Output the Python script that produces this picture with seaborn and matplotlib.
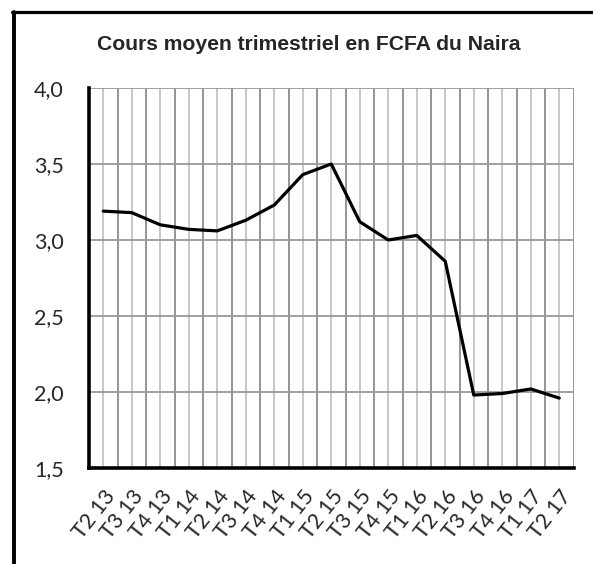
import matplotlib
matplotlib.use("Agg")
import matplotlib.pyplot as plt
import numpy as np
import seaborn as sns
from matplotlib.lines import Line2D
from matplotlib.ticker import FuncFormatter, FixedLocator

# Données : cours moyen trimestriel du Naira en FCFA
trimestres = ["T2 13", "T3 13", "T4 13", "T1 14", "T2 14", "T3 14", "T4 14",
              "T1 15", "T2 15", "T3 15", "T4 15", "T1 16", "T2 16", "T3 16",
              "T4 16", "T1 17", "T2 17"]
cours = [3.19, 3.18, 3.10, 3.07, 3.06, 3.13, 3.23, 3.43, 3.50, 3.12,
         3.00, 3.03, 2.86, 1.98, 1.99, 2.02, 1.96]

sns.set_style("white")
plt.rcParams['font.family'] = ['Lato', 'DejaVu Sans']

fig = plt.figure(figsize=(5.93, 5.64), dpi=100)
ax = fig.add_axes([89 / 593, 1 - 468 / 564, 484.5 / 593, 380 / 564])

pos = np.arange(len(trimestres))
sns.lineplot(x=pos, y=cours, ax=ax, color="black", linewidth=2.3)

ax.set_xlim(-0.5, len(trimestres) - 0.5)
ax.set_ylim(1.5, 4.0)
ax.set_yticks(np.arange(1.5, 4.01, 0.5))
ax.yaxis.set_major_formatter(FuncFormatter(lambda v, p: f"{v:.1f}".replace(".", ",")))

# ticks majeurs aux limites des catégories, étiquettes au centre
ax.xaxis.set_major_locator(FixedLocator(np.arange(-0.5, len(trimestres), 1.0)))
ax.xaxis.set_minor_locator(FixedLocator(pos))
ax.set_xticklabels([], minor=False)
ax.set_xticklabels(trimestres, minor=True, rotation=52, ha="right",
                   rotation_mode="anchor", fontsize=15.5)
ax.tick_params(axis="x", which="major", direction="in", length=6, width=2.5,
               color="black", labelbottom=False)
ax.tick_params(axis="x", which="minor", length=0, pad=13)
ax.tick_params(axis="y", direction="in", length=6.5, width=2.5, color="black",
               labelsize=15.5, pad=18)

ax.grid(True, axis="y", color="#999999", linewidth=1.3)
ax.grid(True, axis="x", which="major", color="#8c8c8c", linewidth=1.3)
ax.grid(True, axis="x", which="minor", color="#c4c4c4", linewidth=1.3)
ax.set_axisbelow(True)

for s in ["top", "right"]:
    ax.spines[s].set_visible(False)
for s in ["left", "bottom"]:
    ax.spines[s].set_color("black")
    ax.spines[s].set_linewidth(2.6)

fig.text(309 / 593, 1 - 45 / 564, "Cours moyen trimestriel en FCFA du Naira",
         ha="center", va="center", fontsize=15.2, fontweight="bold",
         family=["Liberation Sans", "DejaVu Sans"])

# cadre du graphique
fig.add_artist(Line2D([14 / 593, 14 / 593], [0, 1 - 11.5 / 564],
                      transform=fig.transFigure, color="black", linewidth=2.8))
fig.add_artist(Line2D([12 / 593, 1], [1 - 11.5 / 564, 1 - 11.5 / 564],
                      transform=fig.transFigure, color="black", linewidth=2.3))

fig.savefig("out.png", dpi=100)
